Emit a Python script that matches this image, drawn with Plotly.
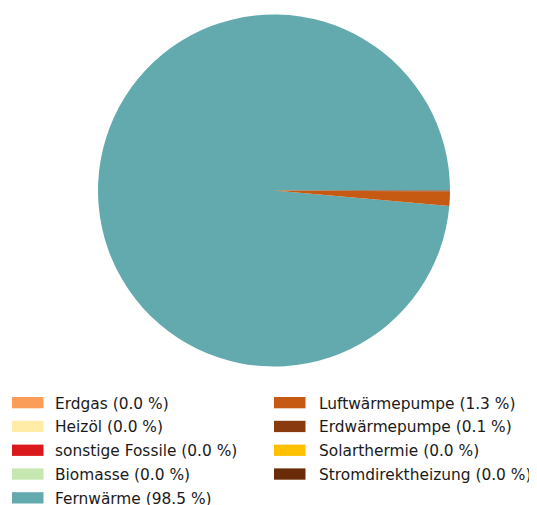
import plotly.graph_objects as go

# page has an 8px body margin; work in reference pixels and shift by OFF
OFF = 8
W, H = 537 - OFF, 505 - OFF

labels = ["Erdgas", "Heizöl", "sonstige Fossile", "Biomasse", "Fernwärme",
          "Luftwärmepumpe", "Erdwärmepumpe", "Solarthermie", "Stromdirektheizung"]
values = [0.0, 0.0, 0.0, 0.0, 98.5, 1.3, 0.1, 0.0, 0.0]
colors = ["#f99d59", "#ffeca6", "#d9191c", "#c6e7af", "#63aaae",
          "#c75a12", "#8a3a0f", "#ffc000", "#6a2b08"]


def px(x):
    return (x - OFF) / W


def py(y):
    return 1 - (y - OFF) / H


fig = go.Figure()
fig.add_trace(go.Pie(
    labels=labels, values=values, sort=False,
    direction="counterclockwise", rotation=90,
    marker=dict(colors=colors, line=dict(width=0)),
    textinfo="none", showlegend=False,
    domain=dict(x=[px(98), px(450)], y=[py(367), py(14)]),
))

# legend (two columns, column-major like the original)
col_x = [12, 274]
text_x = [54, 318]
row_top0 = 397
row_step = 23.8
rect_w, rect_h = 31.5, 11.3
per_col = 5
for i, (lab, val, col) in enumerate(zip(labels, values, colors)):
    c = i // per_col
    r = i % per_col
    top = row_top0 + r * row_step
    x0 = col_x[c]
    fig.add_shape(type="rect", xref="paper", yref="paper",
                  x0=px(x0), x1=px(x0 + rect_w),
                  y0=py(top + rect_h), y1=py(top),
                  fillcolor=col, line=dict(width=0))
    fig.add_annotation(xref="paper", yref="paper",
                       x=px(text_x[c]), y=py(top + rect_h / 2 + 1),
                       xanchor="left", yanchor="middle", showarrow=False,
                       borderpad=0,
                       text=f"{lab} ({val:.1f} %)",
                       font=dict(family="DejaVu Sans", size=15.4, color="#1a1a1a"))

fig.update_layout(width=W, height=H, margin=dict(l=0, r=0, t=0, b=0),
                  paper_bgcolor="white", plot_bgcolor="white")
fig.write_html("out.html")
